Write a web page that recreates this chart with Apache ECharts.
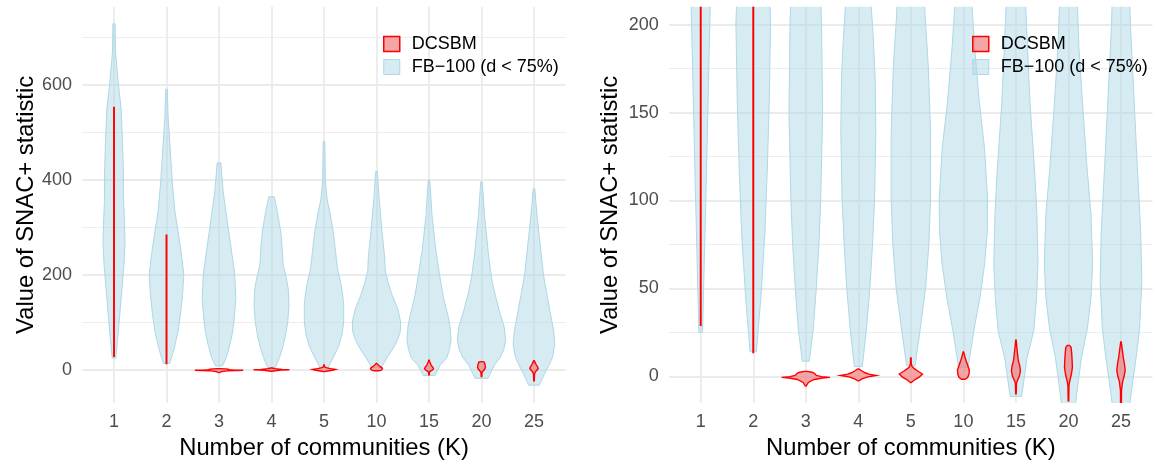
<!DOCTYPE html>
<html>
<head>
<meta charset="utf-8">
<script src="https://cdn.jsdelivr.net/npm/echarts@6/dist/echarts.min.js"></script>
<style>
  html, body { margin: 0; padding: 0; background: #fff; }
  #main { width: 1156px; height: 465px; }
</style>
</head>
<body>
<div id="main"></div>
<script>
// number of communities (K)
var kLabels = ['1', '2', '3', '4', '5', '10', '15', '20', '25'];

// violin outlines, one per K: [statistic value, half width in category units]
var fbViolins = [
  [[25,0.035],[64,0.067],[101,0.098],[139,0.127],[176,0.155],[222,0.19],[271,0.21],[320,0.195],[362,0.18],[417,0.18],[487,0.16],[549,0.137],[605,0.08],[668,0.03],[729,0.02]],
  [[14,0.06],[45,0.146],[82,0.222],[120,0.27],[157,0.305],[201,0.33],[250,0.276],[292,0.22],[334,0.16],[396,0.11],[466,0.07],[535,0.03],[591,0.015]],
  [[8.6,0.065],[26,0.14],[50,0.2],[75,0.25],[101,0.285],[150,0.32],[201,0.3],[257,0.23],[327,0.14],[375,0.08],[436,0.035]],
  [[5.5,0.075],[26,0.152],[50,0.22],[75,0.27],[101,0.31],[139,0.333],[170,0.32],[195,0.28],[222,0.22],[260,0.2],[292,0.175],[334,0.11],[365,0.05]],
  [[6,0.08],[26,0.175],[50,0.28],[75,0.343],[101,0.375],[139,0.375],[176,0.333],[206,0.27],[222,0.248],[291,0.177],[333,0.11],[361,0.057],[400,0.025],[481,0.015]],
  [[5,0.09],[26,0.2],[45,0.317],[64,0.405],[82,0.454],[101,0.46],[129,0.405],[157,0.3],[185,0.22],[210,0.165],[236,0.156],[291,0.106],[361,0.05],[418,0.015]],
  [[-11.4,0.11],[10,0.21],[26,0.34],[45,0.394],[64,0.42],[92,0.4],[115,0.36],[155,0.27],[201,0.2],[257,0.124],[326,0.057],[400,0.015]],
  [[-17.5,0.125],[0,0.2],[11,0.25],[27,0.36],[45,0.43],[64,0.46],[92,0.43],[120,0.35],[157,0.264],[187,0.2],[236,0.14],[326,0.057],[396,0.015]],
  [[-32,0.1],[-8,0.2],[11,0.29],[27,0.354],[54,0.397],[82,0.376],[120,0.31],[157,0.25],[200,0.18],[257,0.125],[326,0.057],[382,0.015]]
];
var dcsbmViolins = [
  [[29,0.005],[553,0.005]],
  [[13.5,0.005],[284,0.005]],
  [[-5.5,0.008],[-3.5,0.05],[-1.8,0.16],[-1,0.32],[-0.6,0.46],[-0.2,0.3],[0.5,0.2],[1.5,0.17],[2.3,0.12],[2.8,0.02]],
  [[-2.6,0.01],[-1.5,0.07],[-0.3,0.18],[0.5,0.34],[1.2,0.2],[2,0.13],[3,0.07],[4.2,0.01]],
  [[-3.5,0.01],[-2,0.07],[-0.5,0.16],[1.3,0.22],[3,0.13],[4.5,0.06],[5.5,0.025],[7,0.008],[10.5,0.005]],
  [[-1.7,0.035],[-0.7,0.08],[1,0.105],[3.5,0.113],[6,0.085],[8.5,0.055],[11,0.03],[13.9,0.005]],
  [[-10,0.005],[-4,0.01],[-2,0.035],[0,0.065],[3,0.085],[6,0.072],[9,0.045],[13,0.03],[17,0.015],[20.5,0.005]],
  [[-14,0.005],[-5,0.01],[-2,0.03],[1,0.055],[5,0.075],[9,0.07],[13,0.062],[16.5,0.05],[17.6,0.02]],
  [[-23,0.005],[-8,0.01],[-3,0.03],[0,0.06],[3.5,0.08],[7,0.066],[11,0.042],[15,0.025],[19.5,0.005]]
];

// axis ranges and ticks
var leftRange = [-69.7, 764.9];
var leftTicks = [0, 200, 400, 600];
var leftMinor = [100, 300, 500, 700];
var rightRange = [-15.25, 210.25];
var rightTicks = [0, 50, 100, 150, 200];
var rightMinor = [25, 75, 125, 175];

var FB_NAME = 'FB\u2212100 (d < 75%)';
var FONT = '"Liberation Sans", Arial, sans-serif';
var fbFill = 'rgba(173,216,230,0.5)', fbLine = '#ADD8E6';
var dcFill = 'rgba(240,128,128,0.7)', dcLine = '#FF0000';

var catPos = kLabels.map(function (k, i) { return i + 1; });
var seriesData = kLabels.map(function (k, i) { return [i + 1, 0]; });

function violin(profiles, fill, stroke, lw) {
  return function (params, api) {
    var x = api.value(0);
    var prof = profiles[x - 1];
    var pts = [];
    for (var i = 0; i < prof.length; i++) pts.push(api.coord([x + prof[i][1], prof[i][0]]));
    for (var j = prof.length - 1; j >= 0; j--) pts.push(api.coord([x - prof[j][1], prof[j][0]]));
    return {
      type: 'polygon',
      shape: { points: pts },
      style: { fill: fill, stroke: stroke, lineWidth: lw }
    };
  };
}

function xAxisCfg(gi) {
  return {
    type: 'value', gridIndex: gi, min: 0.4, max: 9.6,
    name: 'Number of communities (K)', nameLocation: 'middle', nameGap: 32,
    nameTextStyle: { color: '#000', fontSize: 23.8, fontFamily: FONT },
    axisLine: { show: false, onZero: false },
    axisTick: { show: false, customValues: catPos },
    axisLabel: {
      customValues: catPos, margin: 10, color: '#4D4D4D', fontSize: 18, fontFamily: FONT,
      formatter: function (v) { return kLabels[Math.round(v) - 1]; }
    },
    splitLine: { show: true, lineStyle: { color: '#EBEBEB', width: 1.8 } }
  };
}
function yAxisCfg(gi, range, ticks, gap) {
  return {
    type: 'value', gridIndex: gi, min: range[0], max: range[1],
    name: 'Value of SNAC+ statistic', nameLocation: 'middle', nameGap: gap,
    nameTextStyle: { color: '#000', fontSize: 23.8, fontFamily: FONT },
    axisLine: { show: false }, axisTick: { show: false, customValues: ticks },
    axisLabel: { customValues: ticks, margin: 10.5, color: '#4D4D4D', fontSize: 18, fontFamily: FONT },
    splitLine: { show: true, lineStyle: { color: '#EBEBEB', width: 1.8 } }
  };
}
function yMinorCfg(gi, range, ticks) {
  return {
    type: 'value', gridIndex: gi, min: range[0], max: range[1],
    axisLine: { show: false }, axisTick: { show: false, customValues: ticks },
    axisLabel: { show: false, customValues: ticks },
    splitLine: { show: true, lineStyle: { color: '#EBEBEB', width: 0.9 } }
  };
}
function legendCfg(left) {
  return {
    left: left, top: 30, orient: 'vertical', itemWidth: 16, itemHeight: 15, itemGap: 5,
    textStyle: { color: '#000', fontSize: 18, fontFamily: FONT, padding: [0, 0, 0, 7] },
    data: [
      { name: 'DCSBM', icon: 'rect', itemStyle: { color: dcFill, borderColor: dcLine, borderWidth: 1.5 } },
      { name: FB_NAME, icon: 'rect', itemStyle: { color: fbFill, borderColor: fbLine, borderWidth: 1 } }
    ]
  };
}
function violinSeries(name, xi, yi, profiles, fill, stroke, lw) {
  return {
    type: 'custom', name: name, xAxisIndex: xi, yAxisIndex: yi, clip: true,
    itemStyle: { color: fill, borderColor: stroke, borderWidth: lw },
    renderItem: violin(profiles, fill, stroke, lw),
    data: seriesData, silent: true
  };
}

var chart = echarts.init(document.getElementById('main'), null, { renderer: 'canvas' });
chart.setOption({
  animation: false,
  backgroundColor: '#fff',
  grid: [
    { left: 82.5, top: 6.7, width: 483, height: 400 },
    { left: 669.2, top: 6.7, width: 483.3, height: 400 }
  ],
  legend: [legendCfg(378), legendCfg(967)],
  xAxis: [xAxisCfg(0), xAxisCfg(1)],
  yAxis: [
    yAxisCfg(0, leftRange, leftTicks, 44),
    yMinorCfg(0, leftRange, leftMinor),
    yAxisCfg(1, rightRange, rightTicks, 47),
    yMinorCfg(1, rightRange, rightMinor)
  ],
  series: [
    violinSeries(FB_NAME, 0, 0, fbViolins, fbFill, fbLine, 1),
    violinSeries('DCSBM', 0, 0, dcsbmViolins, dcFill, dcLine, 1.4),
    violinSeries(FB_NAME, 1, 2, fbViolins, fbFill, fbLine, 1),
    violinSeries('DCSBM', 1, 2, dcsbmViolins, dcFill, dcLine, 1.4)
  ]
});
</script>
</body>
</html>
